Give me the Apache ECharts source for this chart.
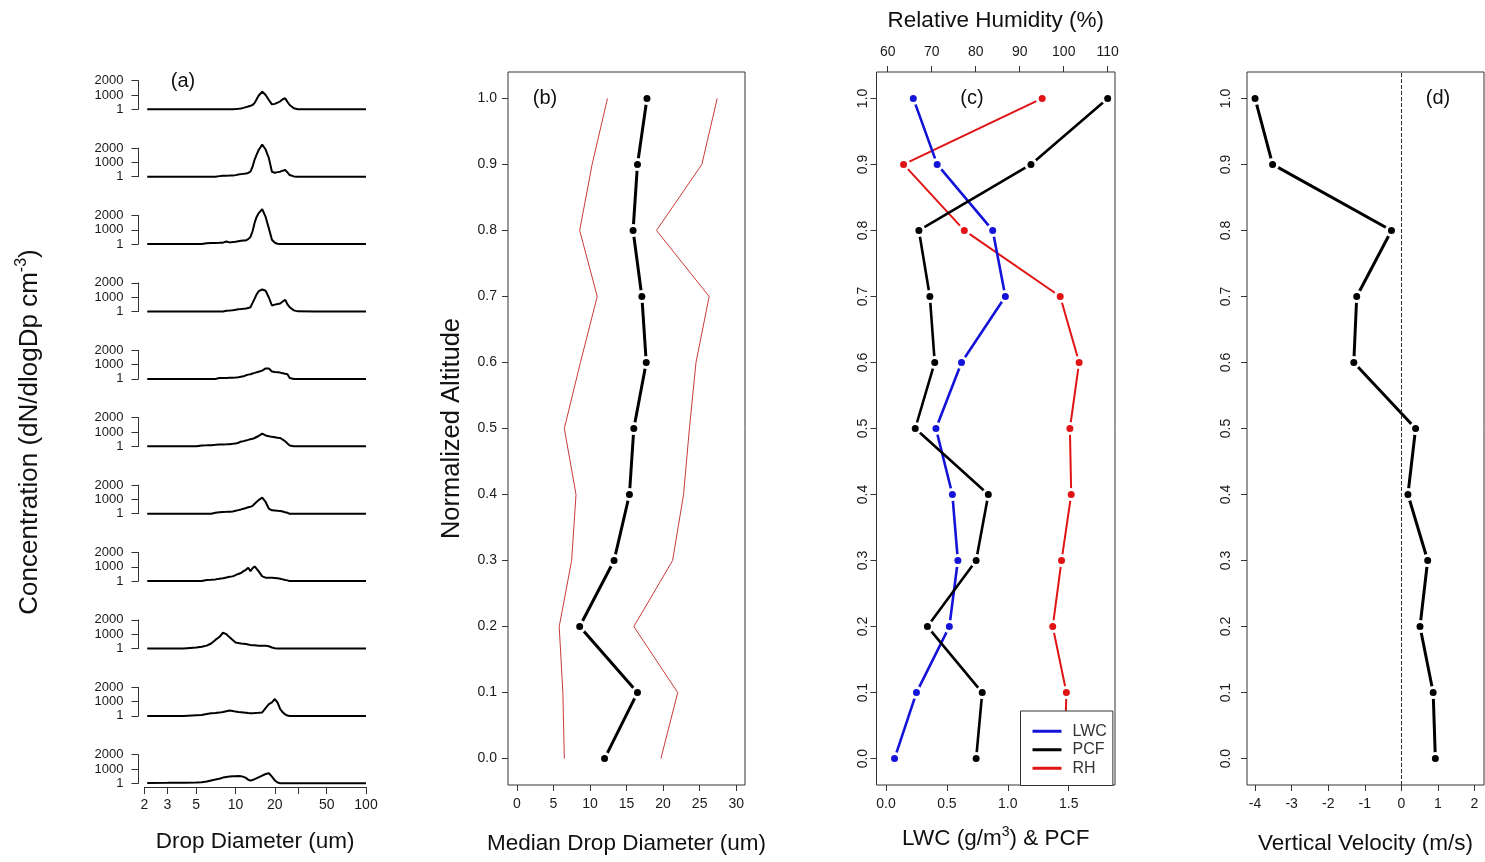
<!DOCTYPE html>
<html>
<head>
<meta charset="utf-8">
<script src="https://cdn.jsdelivr.net/npm/echarts@6/dist/echarts.min.js"></script>
<style>html,body{margin:0;padding:0;background:#fff}#c{width:1485px;height:862px}</style>
</head>
<body>
<div id="c"></div>
<script>
// ---------- DATA ----------
const altitude = [0.0, 0.1, 0.2, 0.3, 0.4, 0.5, 0.6, 0.7, 0.8, 0.9, 1.0];
const altTicks = [0.0, 0.1, 0.2, 0.3, 0.4, 0.5, 0.6, 0.7, 0.8, 0.9, 1.0];

// panel (a): drop size distributions (dN/dlogDp) at each normalized altitude
const dsdDiameter = [2.1, 3, 4, 5, 5.5, 6, 6.5, 7, 7.5, 8, 8.5, 9, 9.5, 10, 10.5, 11, 11.5, 12, 12.5, 13, 13.5, 14, 14.5, 15, 16, 17, 18, 19, 20, 21, 22, 23, 24, 25, 26, 28, 30, 40, 60, 100];
const dsd10 = [0,0,0,0,0,0,0,0,0,0,0,0,0,20,40,60,100,150,200,250,300,450,700,950,1240,1000,650,350,380,470,560,700,770,520,300,70,10,0,0,0];
const dsd09 = [0,0,0,0,0,0,0,0,40,60,70,80,90,110,150,180,200,220,260,350,700,1200,1550,1850,2250,1900,1300,350,280,320,350,420,470,300,120,20,0,0,0,0];
const dsd08 = [0,0,0,0,0,60,70,80,90,100,180,120,140,160,200,230,250,260,350,500,900,1500,1900,2150,2450,1900,1100,300,90,20,0,0,0,0,0,0,0,0,0,0];
const dsd07 = [0,0,0,0,0,0,0,0,0,0,50,70,90,120,150,170,190,210,240,300,600,900,1200,1400,1540,1450,980,420,480,520,560,700,820,500,300,80,10,0,0,0];
const dsd06 = [0,0,0,0,0,0,0,0,60,70,70,80,80,90,110,150,180,250,300,330,380,420,470,500,580,730,720,520,480,460,440,400,360,330,60,0,0,0,0,0];
const dsd05 = [0,0,0,0,60,70,80,100,120,130,140,150,170,190,250,330,360,400,450,500,520,580,650,720,880,760,700,660,630,600,580,470,350,200,60,0,0,0,0,0];
const dsd04 = [0,0,0,0,0,0,0,60,100,120,130,140,160,200,250,300,350,400,450,480,550,700,830,950,1120,820,350,240,220,200,190,150,100,60,0,0,0,0,0,0];
const dsd03 = [0,0,0,0,0,70,90,120,160,200,250,300,330,420,500,570,700,790,930,700,900,1030,980,700,330,240,230,230,220,200,160,120,80,50,0,0,0,0,0,0];
const dsd02 = [0,0,0,70,120,200,350,600,800,1100,1000,780,600,420,380,350,340,320,280,250,230,220,210,200,190,190,160,70,20,0,0,0,0,0,0,0,0,0,0,0];
const dsd01 = [0,0,0,50,70,140,180,200,230,280,330,370,340,300,270,260,240,220,200,190,190,200,210,220,240,540,820,950,1180,930,470,250,100,20,0,0,0,0,0,0];
const dsd00 = [20,30,40,60,80,120,200,260,320,400,440,470,490,500,510,500,450,380,250,190,230,290,350,420,540,650,700,470,200,60,0,0,0,0,0,0,0,0,0,0];
const dsdList = [dsd10, dsd09, dsd08, dsd07, dsd06, dsd05, dsd04, dsd03, dsd02, dsd01, dsd00];
const dsdYTicks = [1, 1000, 2000];
const sizeTicks = [2, 3, 5, 10, 20, 30, 50, 100];
const sizeLabels = [2, 3, 5, 10, 20, 50, 100];

// panel (b): median drop diameter and spread
const medianDiam = [12.0, 16.5, 8.6, 13.3, 15.4, 16.0, 17.7, 17.1, 15.9, 16.5, 17.8];
const lowerDiam  = [6.5, 6.3, 5.8, 7.5, 8.1, 6.5, 8.7, 11.0, 8.6, 10.3, 12.4];
const upperDiam  = [19.7, 22.0, 16.0, 21.3, 22.8, 23.6, 24.5, 26.3, 19.1, 25.3, 27.4];
const medTicks = [0, 5, 10, 15, 20, 25, 30];

// panel (c): LWC, PCF, RH
const lwc = [0.07, 0.25, 0.52, 0.59, 0.545, 0.41, 0.62, 0.98, 0.876, 0.42, 0.224];
const pcf = [0.74, 0.79, 0.34, 0.74, 0.84, 0.24, 0.40, 0.36, 0.27, 1.19, 1.82];
const rh  = [100.2, 100.6, 97.5, 99.5, 101.7, 101.4, 103.5, 99.2, 77.4, 63.6, 95.1];
const lwcTicks = [0, 0.5, 1.0, 1.5];
const rhTicks = [60, 70, 80, 90, 100, 110];

// panel (d): vertical velocity
const vertVel = [0.93, 0.87, 0.51, 0.72, 0.18, 0.39, -1.30, -1.22, -0.27, -3.52, -4.0];
const vvTicks = [-4, -3, -2, -1, 0, 1, 2];

// ---------- CHART ----------
const FONT = '"Liberation Sans", Arial, sans-serif';
const TXT = '#1a1a1a';
const AX = '#333';
const pairs = (xs, ys) => xs.map((x, i) => [x, ys[i]]);
const f1 = v => Number(v).toFixed(1);

const grids = [], xAxes = [], yAxes = [], series = [];

// panel (a) small multiples
dsdList.forEach((arr, i) => {
  grids.push({left: 138.5, top: 80.7 + 67.4 * i, width: 236.2, height: 28.6, outerBoundsMode: 'none', containLabel: false});
  xAxes.push({gridIndex: i, type: 'log', min: 1.8, max: 116.7, show: false});
  yAxes.push({
    gridIndex: i, type: 'value', min: 0, max: 2000,
    axisLine: {show: true, onZero: false, lineStyle: {color: AX, width: 1}},
    axisTick: {show: true, length: 7, customValues: dsdYTicks, lineStyle: {color: AX}},
    axisLabel: {customValues: dsdYTicks, formatter: v => String(v), fontSize: 13, color: TXT, margin: 15, fontFamily: FONT},
    splitLine: {show: false}
  });
  series.push({type: 'line', xAxisIndex: i, yAxisIndex: i, data: pairs(dsdDiameter, arr),
    showSymbol: false, symbol: 'none', clip: false, silent: true,
    lineStyle: {color: '#000', width: 2}});
});

// grid 11: x axis of panel (a)
grids.push({left: 144.3, top: 777, width: 221.7, height: 10, outerBoundsMode: 'none', containLabel: false});
xAxes.push({
  gridIndex: 11, type: 'log', min: 2, max: 100,
  axisLine: {show: true, onZero: false, lineStyle: {color: AX, width: 1}},
  axisTick: {show: true, length: 7, customValues: sizeTicks, lineStyle: {color: AX}},
  axisLabel: {customValues: sizeLabels, fontSize: 14, color: TXT, margin: 11, fontFamily: FONT},
  splitLine: {show: false},
  name: 'Drop Diameter (um)', nameLocation: 'middle', nameGap: 43,
  nameTextStyle: {fontSize: 22.5, color: '#111', fontFamily: FONT}
});
yAxes.push({gridIndex: 11, type: 'value', min: 0, max: 1, show: false});

const boxGrid = (left, width) => ({left: left, top: 72, width: width, height: 713, show: true,
  borderColor: AX, borderWidth: 1, backgroundColor: 'transparent', outerBoundsMode: 'none', containLabel: false});
const tickStyle = (vals, len) => ({show: true, length: len, customValues: vals, lineStyle: {color: AX}});

// grid 12: panel (b)
grids.push(boxGrid(508, 237));
xAxes.push({
  gridIndex: 12, type: 'value', min: -1.2, max: 31.2,
  axisLine: {show: false, onZero: false}, axisTick: tickStyle(medTicks, 6),
  axisLabel: {customValues: medTicks, fontSize: 14, color: TXT, margin: 12, fontFamily: FONT},
  splitLine: {show: false},
  name: 'Median Drop Diameter (um)', nameLocation: 'middle', nameGap: 47,
  nameTextStyle: {fontSize: 22.5, color: '#111', fontFamily: FONT}
});
yAxes.push({
  gridIndex: 12, type: 'value', min: -0.04, max: 1.04,
  axisLine: {show: false, onZero: false}, axisTick: tickStyle(altTicks, 6),
  axisLabel: {customValues: altTicks, formatter: f1, fontSize: 14, color: TXT, margin: 11, fontFamily: FONT},
  splitLine: {show: false},
  name: 'Normalized Altitude', nameLocation: 'middle', nameGap: 43,
  nameTextStyle: {fontSize: 25.5, color: '#111', fontFamily: FONT}
});

// grid 13: panel (c)
grids.push(boxGrid(876.5, 238.5));
xAxes.push({
  gridIndex: 13, type: 'value', min: -0.078, max: 1.88, position: 'bottom',
  axisLine: {show: false, onZero: false}, axisTick: tickStyle(lwcTicks, 6),
  axisLabel: {customValues: lwcTicks, formatter: f1, fontSize: 14, color: TXT, margin: 12, fontFamily: FONT},
  splitLine: {show: false},
  name: 'LWC (g/m{sup|3}) & PCF', nameLocation: 'middle', nameGap: 40,
  nameTextStyle: {fontSize: 22.5, color: '#111', fontFamily: FONT,
    rich: {sup: {fontSize: 14, color: '#111', fontFamily: FONT, padding: [0, 0, 14, 0]}}}
});
xAxes.push({
  gridIndex: 13, type: 'value', min: 57.45, max: 111.65, position: 'top',
  axisLine: {show: false, onZero: false}, axisTick: tickStyle(rhTicks, 6),
  axisLabel: {customValues: rhTicks, fontSize: 14, color: TXT, margin: 13, fontFamily: FONT},
  splitLine: {show: false},
  name: 'Relative Humidity (%)', nameLocation: 'middle', nameGap: 40,
  nameTextStyle: {fontSize: 22.5, color: '#111', fontFamily: FONT}
});
yAxes.push({
  gridIndex: 13, type: 'value', min: -0.04, max: 1.04,
  axisLine: {show: false, onZero: false}, axisTick: tickStyle(altTicks, 6),
  axisLabel: {customValues: altTicks, formatter: f1, rotate: 90, fontSize: 14, color: TXT, margin: 6, fontFamily: FONT},
  splitLine: {show: false}
});

// grid 14: panel (d)
grids.push(boxGrid(1247, 237));
xAxes.push({
  gridIndex: 14, type: 'value', min: -4.22, max: 2.26,
  axisLine: {show: false, onZero: false}, axisTick: tickStyle(vvTicks, 6),
  axisLabel: {customValues: vvTicks, fontSize: 14, color: TXT, margin: 12, fontFamily: FONT},
  splitLine: {show: false},
  name: 'Vertical Velocity (m/s)', nameLocation: 'middle', nameGap: 47,
  nameTextStyle: {fontSize: 22.5, color: '#111', fontFamily: FONT}
});
yAxes.push({
  gridIndex: 14, type: 'value', min: -0.04, max: 1.04,
  axisLine: {show: false, onZero: false}, axisTick: tickStyle(altTicks, 6),
  axisLabel: {customValues: altTicks, formatter: f1, rotate: 90, fontSize: 14, color: TXT, margin: 14, fontFamily: FONT},
  splitLine: {show: false}
});

const ptLine = (name, xi, yi, xs, color, width, size) => ({
  name: name, type: 'line', xAxisIndex: xi, yAxisIndex: yi, data: pairs(xs, altitude),
  symbol: 'circle', symbolSize: size, showSymbol: true, silent: true,
  lineStyle: {color: color, width: width},
  itemStyle: {color: color, borderColor: '#fff', borderWidth: 3}
});

// panel (b) series
series.push({type: 'line', xAxisIndex: 12, yAxisIndex: 12, data: pairs(lowerDiam, altitude), symbol: 'none', silent: true, lineStyle: {color: '#c83a3a', width: 1}});
series.push({type: 'line', xAxisIndex: 12, yAxisIndex: 12, data: pairs(upperDiam, altitude), symbol: 'none', silent: true, lineStyle: {color: '#c83a3a', width: 1}});
series.push(ptLine('median', 12, 12, medianDiam, '#000', 3, 10));

// panel (c) series
series.push(ptLine('RH', 14, 13, rh, '#e01414', 2, 10));
series.push(ptLine('LWC', 13, 13, lwc, '#1414d8', 2.6, 10));
series.push(ptLine('PCF', 13, 13, pcf, '#000', 2.6, 10));

// panel (d) series
const vvSeries = ptLine('vv', 15, 14, vertVel, '#000', 3, 10);
vvSeries.markLine = {silent: true, symbol: ['none', 'none'], label: {show: false},
  lineStyle: {type: 'dashed', color: AX, width: 1}, data: [{xAxis: 0}]};
series.push(vvSeries);

const txt = (x, y, text, size) => ({type: 'text', x: x, y: y, silent: true,
  style: {text: text, fontSize: size, fontFamily: FONT, fill: '#111', align: 'center', verticalAlign: 'middle'}});

const option = {
  animation: false,
  textStyle: {fontFamily: FONT},
  grid: grids,
  xAxis: xAxes,
  yAxis: yAxes,
  series: series,
  legend: {
    data: ['LWC', 'PCF', 'RH'], orient: 'vertical', left: 1020.5, top: 711,
    icon: 'rect', itemWidth: 29, itemHeight: 3, itemGap: 0,
    itemStyle: {borderWidth: 0},
    padding: [11, 6, 8, 12],
    backgroundColor: '#fff', borderColor: AX, borderWidth: 1, borderRadius: 0,
    textStyle: {fontSize: 16, color: '#333', lineHeight: 18.5, padding: [0, 0, 0, 6], fontFamily: FONT},
    selectedMode: false, z: 10
  },
  graphic: [
    txt(183, 81, '(a)', 20),
    txt(545, 98, '(b)', 20),
    txt(972, 98, '(c)', 20),
    txt(1438, 98, '(d)', 20),
    {type: 'text', x: 30, y: 432, rotation: Math.PI / 2, silent: true,
      style: {text: 'Concentration (dN/dlogDp cm{sup|-3})', fontSize: 26, fontFamily: FONT, fill: '#111',
        align: 'center', verticalAlign: 'middle',
        rich: {sup: {fontSize: 16, fontFamily: FONT, fill: '#111', padding: [0, 0, 16, 0]}}}}
  ]
};

const chart = echarts.init(document.getElementById('c'), null, {renderer: 'canvas'});
chart.setOption(option);
</script>
</body>
</html>
